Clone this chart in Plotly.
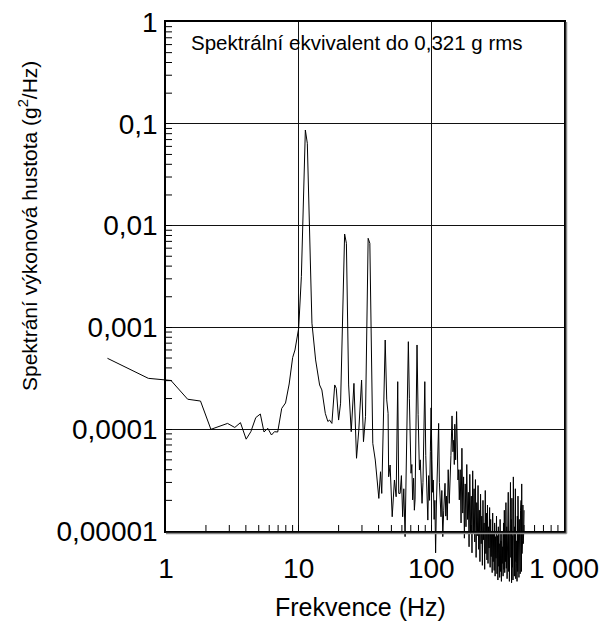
import plotly.graph_objects as go

# ---------------- data ----------------
freq_low = [0.362, 0.736, 1.09, 1.456, 1.82, 2.18, 2.91, 3.30, 3.64, 4.02, 4.36, 4.75, 5.14, 5.48,
            5.85, 6.24, 6.57, 6.95, 7.45, 7.96, 8.48, 9.01, 9.38, 10.0]
psd_low = [4.97e-4, 3.16e-4, 3.01e-4, 1.97e-4, 1.89e-4, 9.97e-5, 1.14e-4, 1.04e-4, 1.16e-4, 7.98e-5,
           9.45e-5, 1.30e-4, 1.41e-4, 9.38e-5, 1.02e-4, 8.77e-5, 9.45e-5, 9.38e-5, 1.60e-4, 1.81e-4,
           2.78e-4, 5.06e-4, 6.0e-4, 9.8e-4]

freq_peaks = [10.48, 11.23, 11.62, 12.1, 12.59, 13.42, 14.38, 14.96, 15.88, 16.6, 17.1, 17.8, 18.7,
              19.2, 20.0, 20.7, 22.2, 22.9, 23.8, 24.9, 26.1, 27.3, 28.4, 29.8, 30.8, 31.9, 33.4,
              34.4, 35.0, 36.2, 37.8, 39.1, 40.2, 41.4, 42.3, 44.9, 46.1, 47.2, 47.7, 48.9, 50.7,
              52.7, 54.3, 55.8, 56.8]
psd_peaks = [3.15e-3, 8.69e-2, 6.43e-2, 9.76e-3, 1.10e-3, 4.79e-4, 2.72e-4, 2.43e-4, 1.43e-4,
             1.19e-4, 1.23e-4, 1.14e-4, 2.72e-4, 2.52e-4, 1.23e-4, 1.80e-4, 8.27e-3, 6.70e-3,
             2.72e-4, 9.45e-5, 2.82e-4, 5.18e-5, 9.82e-5, 3.04e-4, 7.54e-5, 1.33e-4, 7.50e-3,
             6.70e-3, 1.10e-3, 7.26e-5, 4.98e-5, 2.72e-5, 2.09e-5, 3.82e-5, 2.34e-5, 7.52e-4,
             1.94e-4, 1.43e-4, 3.41e-5, 4.45e-5, 1.38e-5, 3.17e-5, 2.17e-5, 2.93e-4, 2.34e-5]

freq_mid = [58.2, 59.5, 60.8, 62.0, 63.4, 64.5, 65.8, 67.1, 68.3, 69.3, 70.3, 71.3, 72.3, 73.5,
            74.5, 75.4, 76.6, 78.0, 79.5, 81.3, 82.5, 83.8, 85.1, 86.5, 88.0, 89.3, 90.8, 92.4,
            94.1, 95.5, 97.0, 98.3, 99.6, 101.0, 102.3, 103.5, 105.0, 106.3, 107.7, 109.2, 110.5,
            112.0, 113.5, 115.0, 116.5, 118.3, 120.0, 122.0, 124.0, 126.8, 128.5, 130.0, 131.9,
            134.0, 136.5, 138.5, 140.5, 143.2, 145.5, 147.6, 149.0, 150.3, 152.5, 155.0, 156.8,
            158.8, 160.5, 162.5]
psd_mid = [2.34e-5, 3.5e-5, 1.38e-5, 2.6e-5, 8.8e-6, 3.0e-5, 1.2e-4, 7.24e-4, 2.0e-4, 6.0e-5,
           3.69e-5, 4.5e-5, 2.02e-5, 3.3e-5, 1.6e-5, 2.02e-5, 1.5e-4, 6.72e-4, 1.4e-4, 3.97e-5,
           5.0e-5, 2.2e-5, 1.87e-5, 3.0e-5, 9.0e-5, 2.93e-4, 5.5e-5, 2.8e-5, 1.28e-5, 3.5e-5,
           2.0e-5, 6.0e-5, 1.62e-4, 5.0e-5, 2.4e-5, 3.17e-5, 1.3e-5, 2.0e-5, 6.1e-6, 1.8e-5,
           3.5e-5, 6.5e-5, 1.14e-4, 3.0e-5, 2.2e-5, 1.38e-5, 2.5e-5, 8.8e-6, 1.6e-5, 2.94e-5,
           1.4e-5, 2.2e-5, 1.28e-5, 4.0e-5, 1.87e-5, 3.0e-5, 5.5e-5, 1.35e-4, 6.0e-5, 7.8e-5,
           4.5e-5, 1.12e-4, 5.0e-5, 1.49e-4, 6.0e-5, 3.17e-5, 4.0e-5, 2.02e-5]

freq_high = [165.0, 167.5, 170.0, 172.5, 175.0, 177.5, 180.0, 182.5, 185.0, 187.5, 190.0, 192.5,
             195.0, 197.5, 200.0, 202.5, 205.0, 207.5, 210.0, 212.5, 215.0, 217.5, 220.0, 222.5,
             225.0, 227.5, 230.0, 232.5, 235.0, 237.5, 240.0, 242.5, 245.0, 247.5, 250.0, 252.5,
             255.0, 257.5, 260.0, 262.5, 265.0, 267.5, 270.0, 272.5, 275.0, 277.5, 280.0, 282.5,
             285.0, 287.5, 290.0, 292.5, 295.0, 297.5, 300.0, 302.5, 305.0, 307.5, 310.0, 312.5,
             315.0, 317.5, 320.0, 322.5, 325.0, 327.5, 330.0, 332.5, 335.0, 337.5, 340.0, 342.5,
             345.0, 347.5, 350.0, 352.5, 355.0, 357.5, 360.0, 362.5, 365.0, 367.5, 370.0, 372.5,
             375.0, 377.5, 380.0, 382.5, 385.0, 387.5, 390.0, 392.5, 395.0, 397.5, 400.0, 402.5,
             405.0, 407.5, 410.0, 412.5, 415.0, 417.5, 420.0, 422.5, 425.0, 427.5, 430.0, 432.5,
             435.0, 437.5, 440.0, 442.5, 445.0, 447.5, 450.0, 452.5, 455.0, 457.5, 460.0, 462.5,
             465.0, 467.5, 470.0, 472.5, 475.0, 477.5, 480.0, 482.5, 485.0, 487.5, 490.0, 492.5,
             495.0, 497.5, 500.0]
psd_high = [4.0e-5, 1.2e-5, 6.5e-5, 1.5e-5, 3.4e-5, 8.5e-6, 2.9e-5, 1.1e-5, 4.5e-5, 1.3e-5,
            2.4e-5, 7.0e-6, 3.6e-5, 9.5e-6, 2.2e-5, 6.1e-6, 3.9e-5, 1.0e-5, 2.6e-5, 7.8e-6,
            3.2e-5, 5.5e-6, 1.9e-5, 9.0e-6, 2.8e-5, 6.6e-6, 1.6e-5, 5.0e-6, 2.3e-5, 7.5e-6,
            1.4e-5, 4.6e-6, 2.0e-5, 8.2e-6, 1.2e-5, 4.2e-6, 2.5e-5, 6.0e-6, 1.5e-5, 5.2e-6,
            1.8e-5, 4.8e-6, 1.1e-5, 6.8e-6, 1.7e-5, 4.4e-6, 1.3e-5, 5.6e-6, 9.5e-6, 3.9e-6,
            1.5e-5, 5.0e-6, 1.0e-5, 4.1e-6, 1.2e-5, 3.6e-6, 8.8e-6, 5.4e-6, 1.4e-5, 3.8e-6,
            9.0e-6, 3.3e-6, 1.1e-5, 4.5e-6, 7.5e-6, 3.5e-6, 1.3e-5, 4.0e-6, 8.0e-6, 3.2e-6,
            1.0e-5, 4.8e-6, 7.0e-6, 3.6e-6, 1.2e-5, 4.2e-6, 1.6e-5, 3.9e-6, 9.5e-6, 5.0e-6,
            1.9e-5, 4.3e-6, 1.1e-5, 3.4e-6, 8.5e-6, 5.8e-6, 2.4e-5, 4.0e-6, 1.0e-5, 3.2e-6,
            1.5e-5, 4.7e-6, 3.0e-5, 5.5e-6, 1.3e-5, 3.1e-6, 2.1e-5, 4.4e-6, 9.0e-6, 3.3e-6,
            3.4e-5, 6.0e-6, 1.5e-5, 3.6e-6, 1.1e-5, 5.0e-6, 2.6e-5, 3.4e-6, 1.2e-5, 4.8e-6,
            8.0e-6, 3.2e-6, 1.4e-5, 4.0e-6, 2.2e-5, 5.2e-6, 1.0e-5, 3.5e-6, 1.3e-5, 4.6e-6,
            8.5e-6, 3.8e-6, 1.6e-5, 5.5e-6, 2.0e-5, 4.0e-6, 2.9e-5, 6.0e-6, 1.4e-5, 8.0e-6,
            1.8e-5, 7.5e-6, 1.2e-5, 1.0e-5, 1.6e-5]

x_tickvals = [1, 10, 100, 1000]
x_ticktext = ["1", "10", "100", "1 000"]
y_tickvals = [1, 0.1, 0.01, 0.001, 0.0001, 0.00001]
y_ticktext = ["1", "0,1", "0,01", "0,001", "0,0001", "0,00001"]
x_minor = [m * d for d in (1, 10, 100) for m in range(2, 10)]
y_minor = [m * d for d in (1e-5, 1e-4, 1e-3, 1e-2, 1e-1) for m in range(2, 10)]

title_x = "Frekvence (Hz)"
title_y = "Spektrání výkonová hustota (g<sup>2</sup>/Hz)"
note = "Spektrální ekvivalent do 0,321 g rms"

freq = freq_low + freq_peaks + freq_mid + freq_high
psd = psd_low + psd_peaks + psd_mid + psd_high

# ---------------- layout geometry ----------------
W, H = 607, 622
px_left, px_right, px_top, px_bottom = 166, 564, 22, 531
xr = [0, 3]
yr = [-5, 0]
xd = [px_left / W, px_right / W]
yd = [(H - px_bottom) / H, (H - px_top) / H]
TICK_PX = 6


def extend(rng, dom):
    span = (rng[1] - rng[0]) / (dom[1] - dom[0])
    return [rng[0] - dom[0] * span, rng[1] + (1 - dom[1]) * span]


FONT = "Arial, Liberation Sans, sans-serif"
TICKFONT = dict(family=FONT, size=28, color="black")

fig = go.Figure()
fig.add_trace(go.Scatter(x=[1], y=[1], xaxis="x", yaxis="y", mode="markers",
                         marker=dict(opacity=0), showlegend=False, hoverinfo="skip"))
fig.add_trace(go.Scatter(x=freq, y=psd, xaxis="x2", yaxis="y2", mode="lines",
                         line=dict(color="black", width=1), showlegend=False))

# minor tick marks (inside, left and bottom), positioned in data values on the log axes
shapes = []
for v in x_minor:
    shapes.append(dict(type="line", xref="x", yref="y domain", x0=v, x1=v,
                       y0=0, y1=TICK_PX / (px_bottom - px_top),
                       line=dict(color="black", width=1)))
for v in y_minor:
    shapes.append(dict(type="line", xref="x domain", yref="y", x0=0,
                       x1=TICK_PX / (px_right - px_left), y0=v, y1=v,
                       line=dict(color="black", width=1)))
# grey shadow of the frame (right and bottom)
shapes += [
    dict(type="line", xref="paper", yref="paper", x0=(px_right + 2.5) / W, x1=(px_right + 2.5) / W,
         y0=(H - px_bottom - 2.5) / H, y1=(H - px_top) / H, line=dict(color="#888888", width=1.5)),
    dict(type="line", xref="paper", yref="paper", x0=px_left / W, x1=(px_right + 2.5) / W,
         y0=(H - px_bottom - 2.5) / H, y1=(H - px_bottom - 2.5) / H,
         line=dict(color="#888888", width=1.5)),
]

fig.update_layout(
    width=W, height=H,
    margin=dict(l=0, r=0, t=0, b=0),
    paper_bgcolor="white", plot_bgcolor="rgba(0,0,0,0)",
    xaxis=dict(type="log", range=xr, domain=xd, anchor="y", tickmode="array",
               tickvals=x_tickvals, ticktext=x_ticktext, ticks="inside", ticklen=TICK_PX,
               tickcolor="black", ticklabelstandoff=12, tickfont=TICKFONT,
               showline=True, linecolor="black", linewidth=1.5, mirror=True,
               showgrid=True, gridcolor="#111111", gridwidth=1, zeroline=False,
               automargin=False),
    yaxis=dict(type="log", range=yr, domain=yd, anchor="x", tickmode="array",
               tickvals=y_tickvals, ticktext=y_ticktext, ticks="inside", ticklen=TICK_PX,
               tickcolor="black", ticklabelstandoff=1, tickfont=TICKFONT,
               showline=True, linecolor="black", linewidth=1.5, mirror=True,
               showgrid=True, gridcolor="#111111", gridwidth=1, zeroline=False,
               automargin=False),
    # data axes: same scale, extended to the page so the curve is not clipped
    xaxis2=dict(type="log", range=extend(xr, xd), domain=[0, 1], anchor="y2", visible=False),
    yaxis2=dict(type="log", range=extend(yr, yd), domain=[0, 1], anchor="x2", visible=False),
    annotations=[
        dict(text=note, xref="paper", yref="paper", x=357 / W, y=1 - 43 / H,
             xanchor="center", yanchor="middle", showarrow=False,
             font=dict(family=FONT, size=20.5, color="black")),
        dict(text=title_x, xref="paper", yref="paper", x=360 / W, y=1 - 607 / H,
             xanchor="center", yanchor="middle", showarrow=False,
             font=dict(family=FONT, size=25, color="black")),
        dict(text=title_y, xref="paper", yref="paper", x=28 / W, y=1 - 226 / H,
             xanchor="center", yanchor="middle", showarrow=False, textangle=-90,
             font=dict(family=FONT, size=21, color="black")),
    ],
    shapes=shapes,
)

fig.write_html("out.html")
